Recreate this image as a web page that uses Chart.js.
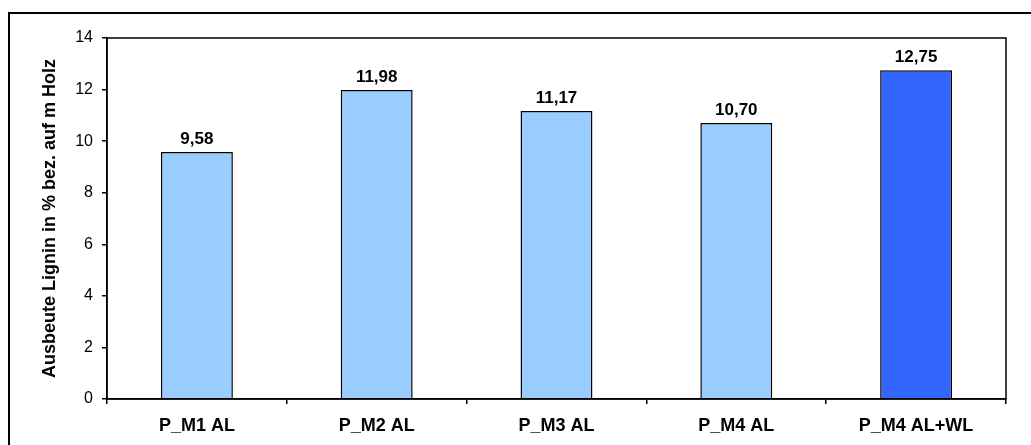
<!DOCTYPE html>
<html>
<head>
<meta charset="utf-8">
<script src="https://cdn.jsdelivr.net/npm/chart.js@4/dist/chart.umd.min.js"></script>
<style>
  html, body { margin: 0; padding: 0; background: #fff; }
  #wrap { position: relative; width: 1031px; height: 445px; overflow: hidden; }
  #frame { position: absolute; left: 8px; top: 12px; width: 1100px; height: 500px;
           border-left: 2px solid #000; border-top: 2px solid #000; }
  canvas { position: absolute; left: 0; top: 0; }
</style>
</head>
<body>
<div id="wrap">
  <div id="frame"></div>
  <canvas id="LigninChart" width="1031" height="445"></canvas>
</div>
<script>
var categories = ["P_M1 AL", "P_M2 AL", "P_M3 AL", "P_M4 AL", "P_M4 AL+WL"];
var ligninYield = [9.58, 11.98, 11.17, 10.70, 12.75];
var barColors = ["#99CCFF", "#99CCFF", "#99CCFF", "#99CCFF", "#3366FF"];
var yTicks = [0, 2, 4, 6, 8, 10, 12, 14];

Chart.defaults.font.family = "'Liberation Sans', Arial, sans-serif";
Chart.defaults.color = "#000";

// box around plot area
var plotBox = {
    id: "plotBox",
    afterDraw: function (chart) {
        var a = chart.chartArea;
        var ctx = chart.ctx;
        ctx.save();
        ctx.strokeStyle = "#000";
        ctx.lineWidth = 1.5;
        ctx.strokeRect(a.left, a.top, a.right - a.left, a.bottom - a.top);
        ctx.restore();
    }
};

// value labels above bars
var valueLabels = {
    id: "valueLabels",
    afterDatasetsDraw: function (chart) {
        var ctx = chart.ctx;
        var meta = chart.getDatasetMeta(0);
        ctx.save();
        ctx.font = "bold 17px 'Liberation Sans', Arial, sans-serif";
        ctx.fillStyle = "#000";
        ctx.textAlign = "center";
        ctx.textBaseline = "alphabetic";
        meta.data.forEach(function (bar, i) {
            ctx.fillText(ligninYield[i].toFixed(2).replace(".", ","), bar.x, bar.y - 8);
        });
        ctx.restore();
    }
};

new Chart("LigninChart", {
    type: "bar",
    data: {
        labels: categories,
        datasets: [{
            data: ligninYield,
            backgroundColor: barColors,
            borderColor: "#000",
            borderWidth: 1.5,
            barPercentage: 0.4,
            categoryPercentage: 1.0
        }]
    },
    options: {
        responsive: false,
        animation: false,
        layout: { padding: { left: 0, top: 38, right: 25, bottom: 0 } },
        plugins: { legend: { display: false }, tooltip: { enabled: false } },
        scales: {
            x: {
                grid: { offset: true, drawOnChartArea: false, tickLength: 5, color: "#000", lineWidth: 1.5 },
                border: { color: "#000", width: 1.5 },
                ticks: { font: { size: 18, weight: "bold" }, padding: 11 },
                afterFit: function (axis) { axis.height = 46; }
            },
            y: {
                min: 0,
                max: 14,
                afterBuildTicks: function (axis) {
                    axis.ticks = yTicks.map(function (v) { return { value: v }; });
                },
                grid: { drawOnChartArea: false, tickLength: 5, color: "#000", lineWidth: 1.5 },
                border: { color: "#000", width: 1.5 },
                ticks: { font: { size: 16 }, padding: 9 },
                title: {
                    display: true,
                    text: "Ausbeute Lignin in % bez. auf m Holz",
                    font: { size: 18, weight: "bold" },
                    padding: { top: 39, bottom: 0 }
                },
                afterFit: function (axis) { axis.width = 107; }
            }
        }
    },
    plugins: [plotBox, valueLabels]
});
</script>
</body>
</html>
